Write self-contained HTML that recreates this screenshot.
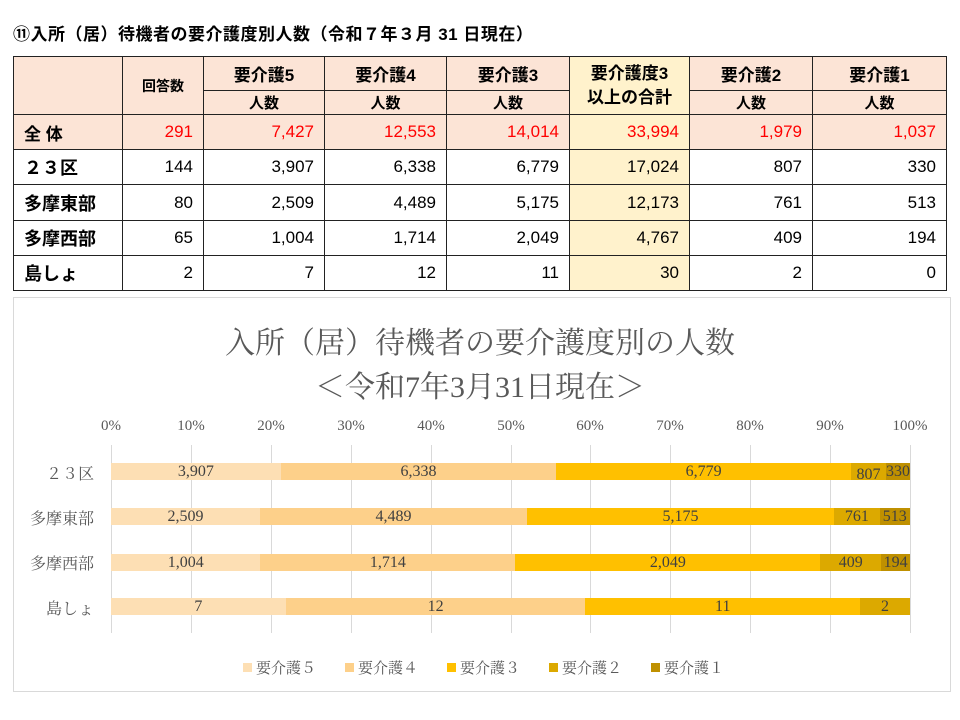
<!DOCTYPE html>
<html><head><meta charset="utf-8">
<style>
*{margin:0;padding:0;box-sizing:border-box}
body{width:960px;height:720px;background:#fff;position:relative;overflow:hidden;font-family:"Liberation Sans","Noto Sans CJK JP",sans-serif;color:#000}
.t{position:absolute;left:13px;top:20px;font-size:17px;font-weight:bold;letter-spacing:0.5px}
table{position:absolute;left:13px;top:56px;border-collapse:collapse;table-layout:fixed;font-size:17px}
td{border:1.5px solid #222;padding:0 10px;text-align:right;white-space:nowrap}
.h{background:#FCE4D6;text-align:center;font-weight:bold}
.y{background:#FFF2CC}
.r td{background:#FCE4D6;color:#f00}
.r td:first-child{color:#000;text-align:left;font-weight:bold}
.r td.y{background:#FFF2CC}
td.l{text-align:left;font-weight:bold;font-size:18px}
.chart{position:absolute;left:13px;top:297px;width:938px;height:395px;border:1px solid #d9d9d9}
.title{position:absolute;left:0;width:100%;text-align:center;font-family:"Liberation Serif","Noto Serif CJK SC",serif;color:#595959;font-size:30px}
.ax{position:absolute;top:418px;font-family:"Liberation Serif",serif;font-size:15px;color:#595959;transform:translateX(-50%)}
.g{position:absolute;top:445px;height:188px;width:1px;background:#d9d9d9}
.bar{position:absolute;left:111px;width:799px;height:17px;display:flex}
.bar div{height:100%;display:flex;align-items:center;justify-content:center;font-family:"Liberation Serif",serif;font-size:16px;color:#404040;overflow:visible;white-space:nowrap}
.c5{background:#FDDFB4}.c4{background:#FDD08A}.c3{background:#FFC000}.c2{background:#DCA900}.c1{background:#BF9000}
.cat{position:absolute;right:866px;font-family:"Liberation Serif","Noto Serif CJK JP",serif;font-size:16px;color:#595959}
.leg{position:absolute;top:657px;font-family:"Liberation Serif","Noto Serif CJK JP",serif;font-size:15px;color:#595959;display:flex;align-items:center}
.leg i{display:inline-block;width:9px;height:9px;margin-right:4px}
</style></head><body>
<div class="t">⑪入所（居）待機者の要介護度別人数（令和７年３月 31 日現在）</div>
<table>
<colgroup><col style="width:109px"><col style="width:81px"><col style="width:121px"><col style="width:122px"><col style="width:123px"><col style="width:120px"><col style="width:123px"><col style="width:134px"></colgroup>
<tr style="height:34px"><td class="h" rowspan="2"></td><td class="h" rowspan="2" style="font-size:14px">回答数</td><td class="h">要介護5</td><td class="h">要介護4</td><td class="h">要介護3</td><td class="h y" rowspan="2" style="line-height:24px;padding:0">要介護度3<br>以上の合計</td><td class="h">要介護2</td><td class="h">要介護1</td></tr>
<tr style="height:24px"><td class="h" style="font-size:15px">人数</td><td class="h" style="font-size:15px">人数</td><td class="h" style="font-size:15px">人数</td><td class="h" style="font-size:15px">人数</td><td class="h" style="font-size:15px">人数</td></tr>
<tr class="r" style="height:35px"><td>全 体</td><td>291</td><td>7,427</td><td>12,553</td><td>14,014</td><td class="y">33,994</td><td>1,979</td><td>1,037</td></tr>
<tr style="height:35px"><td class="l">２３区</td><td>144</td><td>3,907</td><td>6,338</td><td>6,779</td><td class="y">17,024</td><td>807</td><td>330</td></tr>
<tr style="height:36px"><td class="l">多摩東部</td><td>80</td><td>2,509</td><td>4,489</td><td>5,175</td><td class="y">12,173</td><td>761</td><td>513</td></tr>
<tr style="height:35px"><td class="l">多摩西部</td><td>65</td><td>1,004</td><td>1,714</td><td>2,049</td><td class="y">4,767</td><td>409</td><td>194</td></tr>
<tr style="height:35px"><td class="l">島しょ</td><td>2</td><td>7</td><td>12</td><td>11</td><td class="y">30</td><td>2</td><td>0</td></tr>
</table>
<div class="chart"></div>
<div class="title" style="top:318px">入所（居）待機者の要介護度別の人数</div>
<div class="title" style="top:362px">＜令和7年3月31日現在＞</div>
<div class="ax" style="left:111px">0%</div><div class="ax" style="left:191px">10%</div><div class="ax" style="left:271px">20%</div><div class="ax" style="left:351px">30%</div><div class="ax" style="left:431px">40%</div><div class="ax" style="left:511px">50%</div><div class="ax" style="left:590px">60%</div><div class="ax" style="left:670px">70%</div><div class="ax" style="left:750px">80%</div><div class="ax" style="left:830px">90%</div><div class="ax" style="left:910px">100%</div>
<div class="g" style="left:111px"></div><div class="g" style="left:191px"></div><div class="g" style="left:271px"></div><div class="g" style="left:351px"></div><div class="g" style="left:431px"></div><div class="g" style="left:511px"></div><div class="g" style="left:590px"></div><div class="g" style="left:670px"></div><div class="g" style="left:750px"></div><div class="g" style="left:830px"></div><div class="g" style="left:910px"></div>
<div class="cat" style="top:461px">２３区</div>
<div class="cat" style="top:506px">多摩東部</div>
<div class="cat" style="top:551px">多摩西部</div>
<div class="cat" style="top:596px">島しょ</div>
<div class="bar" style="top:463px"><div class="c5" style="flex:3907">3,907</div><div class="c4" style="flex:6338">6,338</div><div class="c3" style="flex:6779">6,779</div><div class="c2" style="flex:807;padding-top:6px">807</div><div class="c1" style="flex:330">330</div></div>
<div class="bar" style="top:508px"><div class="c5" style="flex:2509">2,509</div><div class="c4" style="flex:4489">4,489</div><div class="c3" style="flex:5175">5,175</div><div class="c2" style="flex:761">761</div><div class="c1" style="flex:513">513</div></div>
<div class="bar" style="top:554px"><div class="c5" style="flex:1004">1,004</div><div class="c4" style="flex:1714">1,714</div><div class="c3" style="flex:2049">2,049</div><div class="c2" style="flex:409">409</div><div class="c1" style="flex:194">194</div></div>
<div class="bar" style="top:598px"><div class="c5" style="flex:7">7</div><div class="c4" style="flex:12">12</div><div class="c3" style="flex:11">11</div><div class="c2" style="flex:2">2</div></div>
<div class="leg" style="left:243px"><i class="c5"></i>要介護５</div>
<div class="leg" style="left:345px"><i class="c4"></i>要介護４</div>
<div class="leg" style="left:447px"><i class="c3"></i>要介護３</div>
<div class="leg" style="left:549px"><i class="c2"></i>要介護２</div>
<div class="leg" style="left:651px"><i class="c1"></i>要介護１</div>
</body></html>
